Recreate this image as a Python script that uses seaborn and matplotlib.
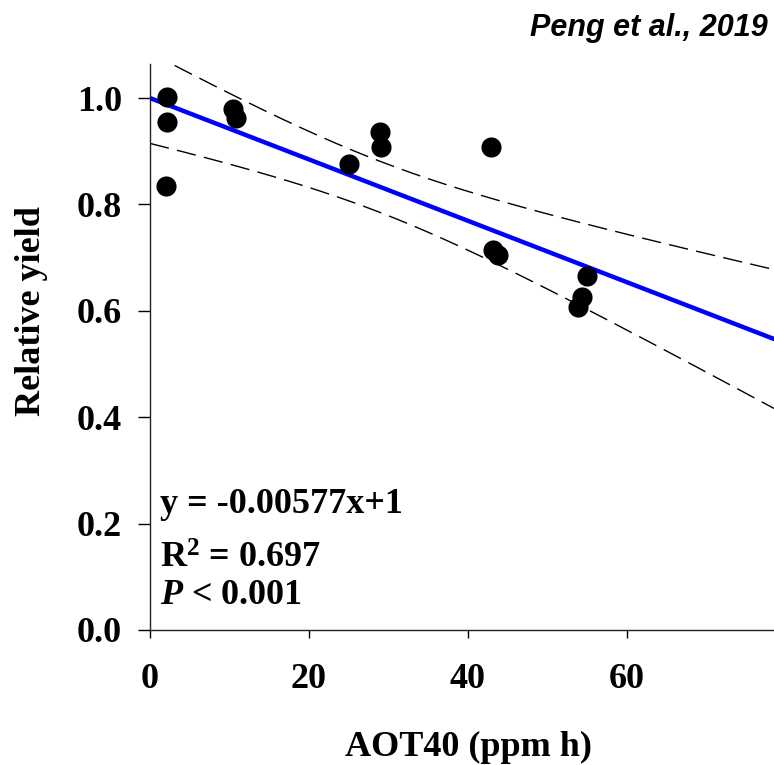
import numpy as np
import pandas as pd
import matplotlib
matplotlib.use('Agg')
import matplotlib.pyplot as plt
import seaborn as sns

# AOT40 (ppm h) vs relative yield
aot40 = [2.1, 2.1, 2.0, 10.4, 10.8, 25.0, 28.9, 29.1, 42.9, 43.2, 43.8, 53.8, 54.4, 55.0]
rel_yield = [1.002, 0.955, 0.835, 0.979, 0.962, 0.876, 0.936, 0.908, 0.908, 0.714, 0.705, 0.607, 0.626, 0.665]

# reported fit
slope = -0.00577
intercept = 1.0
eq_lines = ['y = -0.00577x+1', 'R$^2$ = 0.697', r'$\mathit{P}$ < 0.001']

x_ticks = [0, 20, 40, 60]
y_ticks = [0.0, 0.2, 0.4, 0.6, 0.8, 1.0]
T_975 = 2.179  # t(0.975, df=12)

sns.set_style('ticks')
plt.rcParams['font.family'] = ['Liberation Serif', 'DejaVu Serif']
plt.rcParams['font.weight'] = 'bold'
plt.rcParams['text.color'] = 'black'
plt.rcParams['axes.labelcolor'] = 'black'
plt.rcParams['mathtext.fontset'] = 'custom'
plt.rcParams['mathtext.rm'] = 'Liberation Serif:bold'
plt.rcParams['mathtext.bf'] = 'Liberation Serif:bold'
plt.rcParams['mathtext.it'] = 'Liberation Serif:italic:bold'

df = pd.DataFrame({'AOT40': aot40, 'yield': rel_yield})

# 95% confidence band of the regression line
x = np.asarray(aot40)
y = np.asarray(rel_yield)
n = len(x)
resid = y - (intercept + slope * x)
s = np.sqrt(np.sum(resid ** 2) / (n - 2))
sxx = np.sum((x - x.mean()) ** 2)
grid = np.linspace(0, 78.5, 300)
fit = intercept + slope * grid
half = T_975 * s * np.sqrt(1 / n + (grid - x.mean()) ** 2 / sxx)
band = pd.DataFrame({'x': grid, 'fit': fit, 'lo': fit - half, 'hi': fit + half})

fig = plt.figure(figsize=(7.74, 7.65), dpi=100)
ax = fig.add_axes([150 / 774, 135 / 765, 624 / 774, 566 / 765])

for col in ['lo', 'hi']:
    sns.lineplot(data=band, x='x', y=col, ax=ax, color='black', lw=1.0,
                 dashes=False, linestyle=(0, (14, 6)))
sns.lineplot(data=band, x='x', y='fit', ax=ax, color='#0000ff', lw=3.2)
sns.scatterplot(data=df, x='AOT40', y='yield', ax=ax, color='black', s=210,
                edgecolor='black', linewidth=0, zorder=5)

ax.set_xlim(0, 78.5)
ax.set_ylim(0, 1.064)
ax.set_xticks(x_ticks)
ax.set_yticks(y_ticks)
ax.set_yticklabels([f'{v:.1f}' for v in y_ticks])
sns.despine(ax=ax)
for sp in ['left', 'bottom']:
    ax.spines[sp].set_linewidth(1.0)
    ax.spines[sp].set_color('#222222')
ax.tick_params(axis='x', direction='out', length=6, width=1.0, pad=18, labelsize=26, colors='black')
ax.tick_params(axis='y', direction='out', length=9, width=1.0, pad=11, labelsize=26, colors='black')
for lab in ax.get_xticklabels() + ax.get_yticklabels():
    lab.set_fontweight('bold')

ax.set_xlabel('AOT40 (ppm h)', fontsize=26, fontweight='bold')
ax.set_ylabel('Relative yield', fontsize=26, fontweight='bold')
ax.xaxis.set_label_coords(0.511, -0.178)
ax.yaxis.set_label_coords(-0.163, 0.564)

# equation block
ypos = [513, 568, 604]
for txt, yp in zip(eq_lines, ypos):
    ax.text(10 / 624, (630 - yp) / 566, txt, transform=ax.transAxes,
            fontsize=26, fontweight='bold', ha='left', va='baseline')

fig.text(768 / 774, 1 - 36 / 765, 'Peng et al., 2019', ha='right', va='baseline',
         fontsize=22, fontweight='bold', style='italic',
         family=['Liberation Sans', 'DejaVu Sans'])

fig.savefig('out.png', dpi=100)
plt.close(fig)
